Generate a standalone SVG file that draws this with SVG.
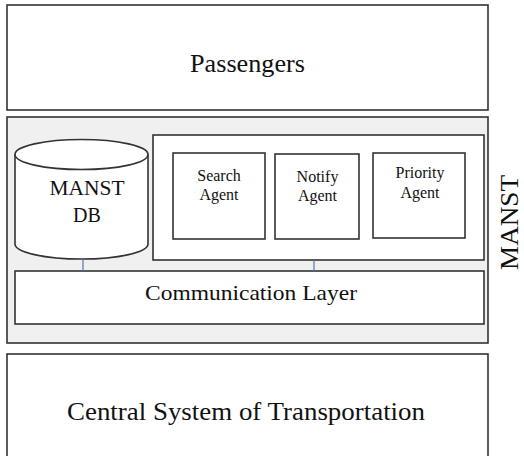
<svg xmlns="http://www.w3.org/2000/svg" width="524" height="456" viewBox="0 0 524 456">
<style>
.box{fill:#fff;stroke:#333;stroke-width:1.6}
.t{font-family:'Liberation Serif','DejaVu Serif',serif;fill:#111;text-anchor:middle}
.a{font-size:16px}
.con{stroke:#4a7ab8;stroke-width:1.2;fill:none}
</style>
<rect width="524" height="456" fill="#fff"/>
<g id="passengers">
<rect class="box" x="7" y="5" width="481" height="105"/>
<text class="t" x="247.5" y="72" font-size="25" textLength="115" lengthAdjust="spacingAndGlyphs">Passengers</text>
</g>
<g id="manst">
<rect x="7" y="117" width="481" height="226" fill="#f0f0f0" stroke="#333" stroke-width="1.6"/>
<text class="t" font-size="26" transform="translate(517.5,222.5) rotate(-90)" textLength="95" lengthAdjust="spacingAndGlyphs">MANST</text>
</g>
<g id="manst-db">
<path class="box" d="M15,154.5 L15,244 A66.5,15 0 0 0 148,244 L148,154.5"/>
<ellipse class="box" cx="81.5" cy="154.5" rx="66.5" ry="15"/>
<text class="t" x="87" y="195" font-size="20" textLength="75" lengthAdjust="spacingAndGlyphs">MANST</text>
<text class="t" x="87" y="222" font-size="20">DB</text>
</g>
<g id="agents">
<rect class="box" x="153" y="135" width="331" height="125"/>
</g>
<g id="search-agent">
<rect class="box" x="173" y="153" width="92" height="86"/>
<text class="t a" x="219" y="181">Search</text>
<text class="t a" x="219" y="200">Agent</text>
</g>
<g id="notify-agent">
<rect class="box" x="275" y="154" width="84" height="85"/>
<text class="t a" x="317.5" y="182">Notify</text>
<text class="t a" x="317.5" y="201">Agent</text>
</g>
<g id="priority-agent">
<rect class="box" x="373" y="153" width="92" height="85"/>
<text class="t a" x="420" y="178">Priority</text>
<text class="t a" x="420" y="198">Agent</text>
</g>
<g id="communication-layer">
<rect class="box" x="15" y="271" width="469" height="53"/>
<text class="t" x="251" y="300" font-size="21" textLength="212" lengthAdjust="spacingAndGlyphs">Communication Layer</text>
</g>
<g id="central">
<rect class="box" x="7" y="354" width="481" height="106"/>
<text class="t" x="246" y="420" font-size="25" textLength="358" lengthAdjust="spacingAndGlyphs">Central System of Transportation</text>
</g>
<g id="connectors">
<line class="con" x1="83" y1="259" x2="83" y2="271"/>
<line class="con" x1="314" y1="260" x2="314" y2="271"/>
</g>
</svg>
